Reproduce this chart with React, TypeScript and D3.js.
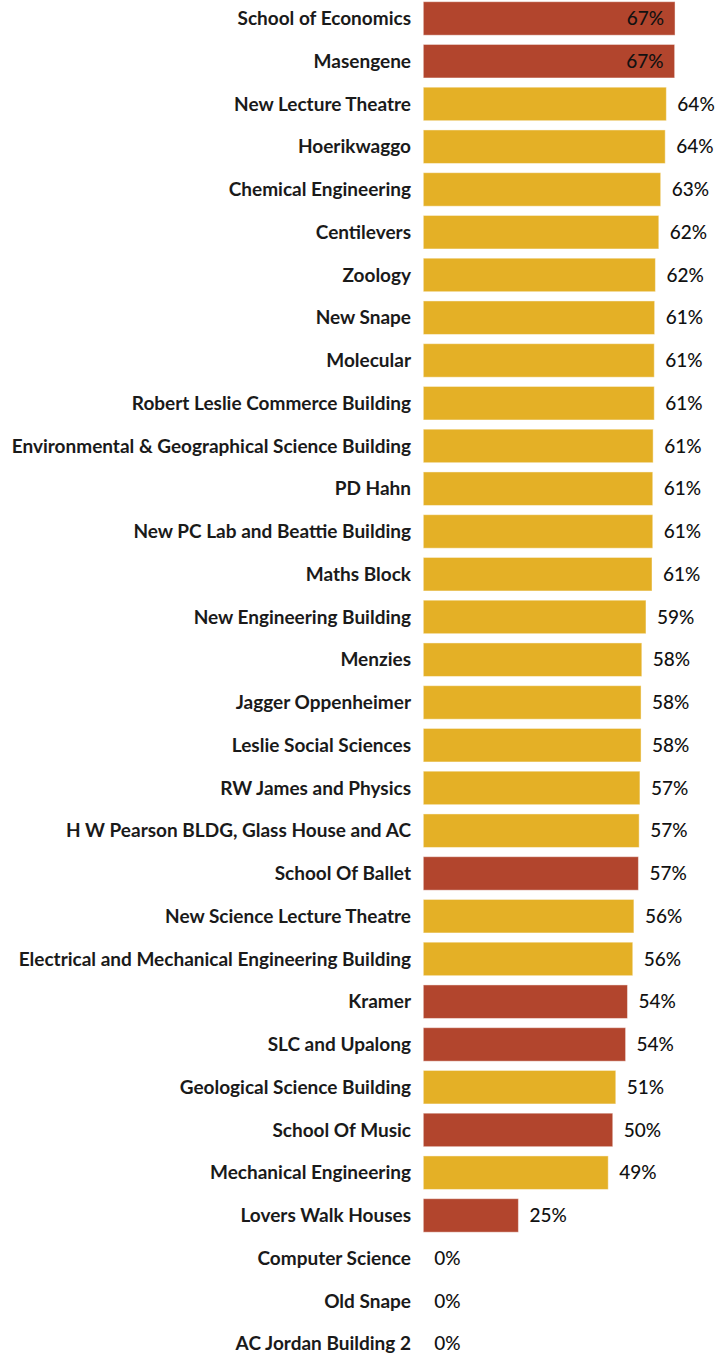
import { useEffect, useRef } from 'react';
import * as d3 from 'd3';

const buildings = [
  'School of Economics', 'Masengene', 'New Lecture Theatre', 'Hoerikwaggo',
  'Chemical Engineering', 'Centilevers', 'Zoology', 'New Snape', 'Molecular',
  'Robert Leslie Commerce Building', 'Environmental & Geographical Science Building',
  'PD Hahn', 'New PC Lab and Beattie Building', 'Maths Block', 'New Engineering Building',
  'Menzies', 'Jagger Oppenheimer', 'Leslie Social Sciences', 'RW James and Physics',
  'H W Pearson BLDG, Glass House and AC', 'School Of Ballet', 'New Science Lecture Theatre',
  'Electrical and Mechanical Engineering Building', 'Kramer', 'SLC and Upalong',
  'Geological Science Building', 'School Of Music', 'Mechanical Engineering',
  'Lovers Walk Houses', 'Computer Science', 'Old Snape', 'AC Jordan Building 2',
];

// percent values
const values = [
  66.7, 66.6, 64.4, 64.1, 62.9, 62.4, 61.5, 61.3, 61.2, 61.2, 60.9, 60.8, 60.8, 60.6,
  59.0, 57.9, 57.7, 57.7, 57.4, 57.2, 57.0, 55.8, 55.5, 54.1, 53.6, 51.0, 50.2, 49.0,
  25.2, 0, 0, 0,
];

// 'r' = red group, 'y' = yellow group
const groups = [
  'r', 'r', 'y', 'y', 'y', 'y', 'y', 'y', 'y', 'y', 'y', 'y', 'y', 'y', 'y', 'y', 'y',
  'y', 'y', 'y', 'r', 'y', 'y', 'r', 'r', 'y', 'r', 'y', 'r', 'y', 'y', 'y',
];

export default function App() {
  const ref = useRef<SVGSVGElement>(null);

  useEffect(() => {
    if (!ref.current) return;
    document.body.style.margin = '0';
    const svg = d3.select(ref.current);
    svg.selectAll('*').remove();

    const width = 728;
    const height = 1353;
    const barLeft = 423.3;

    const data = buildings.map((name, i) => ({ name, value: values[i], group: groups[i] }));

    const x = d3.scaleLinear().domain([0, 100]).range([barLeft, barLeft + 377.4]);
    const y = d3.scaleBand<string>()
      .domain(buildings)
      .range([1.7, 1.7 + 31 * 42.75 + 33.5])
      .paddingInner(0.216)
      .paddingOuter(0);

    const color = d3.scaleOrdinal<string, string>()
      .domain(['r', 'y'])
      .range(['#b2452d', '#e4b026']);

    const font = 'Lato, "Open Sans", sans-serif';

    const rows = svg.append('g')
      .selectAll('g')
      .data(data)
      .join('g')
      .attr('transform', d => `translate(0,${y(d.name)})`);

    rows.append('text')
      .attr('x', 411)
      .attr('y', y.bandwidth() / 2)
      .attr('dy', '0.35em')
      .attr('text-anchor', 'end')
      .attr('font-family', font)
      .attr('font-weight', 700)
      .attr('font-size', 19)
      .attr('fill', '#1a1a1a')
      .text(d => d.name);

    rows.filter(d => d.value > 0)
      .append('rect')
      .attr('x', barLeft)
      .attr('width', d => x(d.value) - barLeft)
      .attr('height', y.bandwidth())
      .attr('fill', d => color(d.group))
      .attr('stroke', 'rgba(255,255,255,0.45)')
      .attr('stroke-width', 1);

    // label goes inside the bar when it would not fit to the right
    const inside = (d: { value: number }) => x(d.value) + 56 > width;

    rows.append('text')
      .attr('x', d => inside(d) ? x(d.value) - 11 : x(d.value) + 11)
      .attr('y', y.bandwidth() / 2)
      .attr('dy', '0.35em')
      .attr('text-anchor', d => inside(d) ? 'end' : 'start')
      .attr('font-family', font)
      .attr('font-weight', 500)
      .attr('font-size', 19)
      .attr('fill', '#111')
      .text(d => `${Math.round(d.value)}%`);

    svg.attr('width', width).attr('height', height);
  }, []);

  return <svg ref={ref} width={728} height={1353} style={{ display: 'block' }} />;
}
